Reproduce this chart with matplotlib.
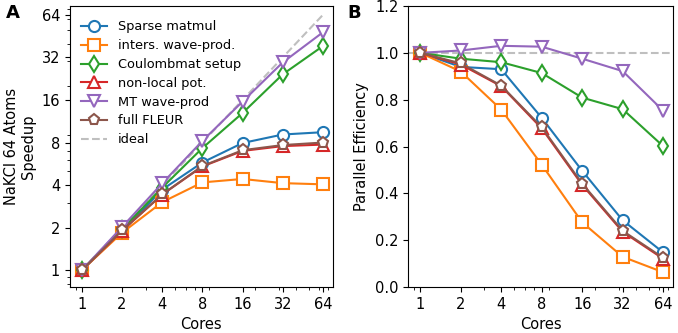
import numpy as np
import matplotlib
matplotlib.use('Agg')
import matplotlib.pyplot as plt
from matplotlib.ticker import LogLocator, NullFormatter

# 数据：各部分的加速比
cores = [1, 2, 4, 8, 16, 32, 64]
sparse_matmul = [1.0, 1.88, 3.72, 5.78, 7.94, 9.12, 9.47]
inters_wave = [1.0, 1.84, 3.03, 4.18, 4.42, 4.13, 4.05]
coulombmat = [1.0, 1.95, 3.84, 7.31, 12.94, 24.3, 38.5]
non_local = [1.0, 1.90, 3.43, 5.42, 6.98, 7.55, 7.74]
mt_wave = [1.0, 2.02, 4.12, 8.21, 15.6, 29.5, 48.2]
full_fleur = [1.0, 1.91, 3.44, 5.46, 7.06, 7.68, 8.0]

labels = ["Sparse matmul", "inters. wave-prod.", "Coulombmat setup", "non-local pot.",
          "MT wave-prod", "full FLEUR"]
series = [sparse_matmul, inters_wave, coulombmat, non_local, mt_wave, full_fleur]
colors = ['tab:blue', 'tab:orange', 'tab:green', 'tab:red', 'tab:purple', 'tab:brown']
markers = ['o', 's', 'd', '^', 'v', 'p']

fig = plt.figure(figsize=(6.78, 3.33), dpi=100)
ax1 = fig.add_axes([0.103, 0.138, 0.388, 0.844])
ax2 = fig.add_axes([0.602, 0.138, 0.391, 0.844])

c = np.array(cores, dtype=float)
for s, lab, col, m in zip(series, labels, colors, markers):
    s = np.array(s)
    ax1.plot(c, s, color=col, marker=m, label=lab, lw=1.5, ms=8, mew=1.5, mfc='white')
    ax2.plot(c, s / c, color=col, marker=m, lw=1.5, ms=8, mew=1.5, mfc='white')

# 理想情况
ax1.plot(c, c, color='gray', alpha=0.5, ls='--', lw=1.5, label='ideal', zorder=0)
ax2.axhline(1.0, color='gray', alpha=0.5, ls='--', lw=1.5, zorder=0)

for ax in [ax1, ax2]:
    ax.set_xscale('log')
    ax.set_xlim(2 ** -0.3, 2 ** 6.25)
    ax.set_xticks(cores)
    ax.set_xticklabels([str(x) for x in cores])
    ax.xaxis.set_minor_locator(LogLocator(base=10, subs=np.arange(2, 10)))
    ax.xaxis.set_minor_formatter(NullFormatter())
    ax.set_xlabel('Cores', fontsize=10.5)
    ax.tick_params(labelsize=10.5)

ax1.set_yscale('log')
ax1.set_ylim(0.76, 74)
ax1.set_yticks(cores)
ax1.set_yticklabels([str(x) for x in cores])
ax1.yaxis.set_minor_locator(LogLocator(base=10, subs=np.arange(2, 10)))
ax1.yaxis.set_minor_formatter(NullFormatter())
ax1.set_ylabel('NaKCl 64 Atoms\nSpeedup', fontsize=10.5)
ax1.legend(loc='upper left', frameon=False, fontsize=9.3, handlelength=2.0,
           bbox_to_anchor=(0.0, 0.99), labelspacing=0.45)

ax2.set_ylim(0, 1.2)
ax2.set_yticks([0.0, 0.2, 0.4, 0.6, 0.8, 1.0, 1.2])
ax2.set_ylabel('Parallel Efficiency', fontsize=10.5)

fig.text(0.019, 0.96, 'A', fontsize=13, fontweight='bold', va='center', ha='center')
fig.text(0.522, 0.96, 'B', fontsize=13, fontweight='bold', va='center', ha='center')

plt.savefig('out.png', dpi=100)
